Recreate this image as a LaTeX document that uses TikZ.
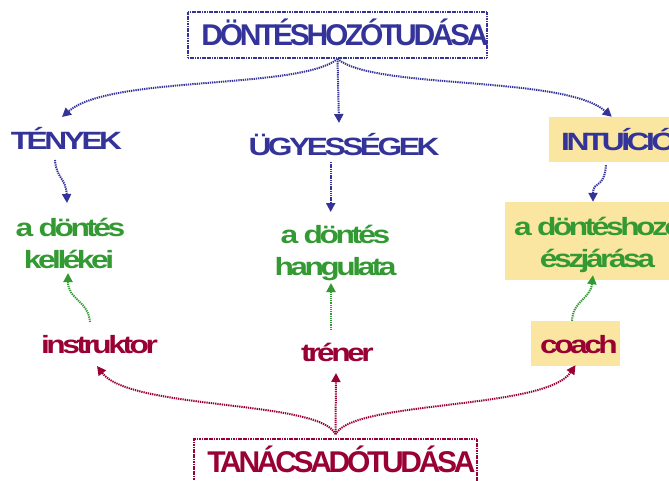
\documentclass[tikz,border=0pt]{standalone}
\usepackage{graphicx}
\usepackage{fontspec}
\setmainfont{Liberation Sans}[BoldFont={Liberation Sans Bold}]
\newfontfamily\cf{Liberation Sans Bold}[LetterSpace=-11]
\usetikzlibrary{arrows.meta}
\definecolor{dblue}{HTML}{333399}
\definecolor{dgreen}{HTML}{339933}
\definecolor{dred}{HTML}{990033}
\definecolor{lyellow}{HTML}{FAE6A0}
\newcommand{\hs}[1]{\scalebox{1.27}[1]{#1}}
\newcommand{\ts}[1]{\scalebox{1.0}[1]{#1}}
\tikzset{
  txt/.style={inner sep=0pt, anchor=base, font=\cf\fontsize{25}{30}\selectfont},
  ttl/.style={inner sep=0pt, anchor=base, font=\cf\fontsize{30}{34}\selectfont},
  bluetxt/.style={txt, text=dblue},
  greentxt/.style={txt, text=dgreen},
  redtxt/.style={txt, text=dred},
  ybox/.style={fill=lyellow, inner sep=0pt},
  frame/.style={line width=1.6pt, dash pattern=on 1.2pt off 0.5pt, inner sep=0pt},
  dotline/.style={line width=2pt, dash pattern=on 1.3pt off 0.9pt, -{Triangle[width=9pt,length=9pt]}},
  barrow/.style={dotline, draw=dblue},
  garrow/.style={dotline, draw=dgreen},
  rarrow/.style={dotline, draw=dred},
}
\begin{document}
\begin{tikzpicture}[x=1pt,y=-1pt]
\useasboundingbox (0,0) rectangle (669,480);
% title boxes
\node[frame, draw=dblue, minimum width=299pt, minimum height=46pt] (top) at (337.5,35) {};
\node[ttl, text=dblue] (toptxt) at (345,45) {\ts{DÖNTÉSHOZÓTUDÁSA}};
\node[frame, draw=dred, minimum width=283pt, minimum height=50pt] (bot) at (335.5,464) {};
\node[ttl, text=dred] (bottxt) at (341.5,472) {\ts{TANÁCSADÓTUDÁSA}};
% second row
\node[bluetxt] (tenyek) at (66.5,149) {\hs{TÉNYEK}};
\node[bluetxt] (ugyes) at (344,155) {\hs{ÜGYESSÉGEK}};
\node[ybox, minimum width=160pt, minimum height=45pt] (intubox) at (629,139.5) {};
\node[bluetxt, anchor=base west] (intu) at (561,150) {\hs{INTUÍCIÓ}};
% third row
\node[greentxt] (g1a) at (70.5,236) {\hs{a döntés}};
\node[greentxt] (g1b) at (69,268) {\hs{kellékei}};
\node[greentxt] (g2a) at (335.5,243) {\hs{a döntés}};
\node[greentxt] (g2b) at (335.5,275) {\hs{hangulata}};
\node[ybox, minimum width=190pt, minimum height=78pt] (g3box) at (600,241) {};
\node[greentxt] (g3a) at (599,235) {\hs{a döntéshozó}};
\node[greentxt] (g3b) at (597.5,267) {\hs{észjárása}};
% fourth row
\node[redtxt] (instr) at (99.5,353) {\hs{instruktor}};
\node[redtxt] (trener) at (337.5,361) {\hs{tréner}};
\node[ybox, minimum width=89pt, minimum height=45pt] (coachbox) at (575.5,343.5) {};
\node[redtxt] (coach) at (579,353) {\hs{coach}};
% blue arrows
\draw[barrow] (top.south) .. controls (300,90) and (110,75) .. ([xshift=-4.5pt,yshift=32pt]tenyek.base);
\draw[barrow] (top.south) -- ([xshift=-5pt,yshift=32pt]ugyes.base);
\draw[barrow] (top.south) .. controls (374,90) and (564,75) .. ([xshift=63pt]intubox.north west);
\draw[barrow] ([xshift=-11.5pt,yshift=-11pt]tenyek.base) .. controls (56,178) and (66,178) .. ([xshift=-3.5pt,yshift=33pt]g1a.base);
\draw[barrow] ([xshift=-13.3pt,yshift=-7pt]ugyes.base) -- ([xshift=-4.8pt,yshift=31pt]g2a.base);
\draw[barrow] ([xshift=-23pt,yshift=-3pt]intubox.south) .. controls (604,190) and (593,180) .. ([xshift=-7pt]g3box.north);
% green arrows
\draw[garrow] ([xshift=-9.5pt,yshift=31pt]instr.base) .. controls (88,300) and (68,300) .. ([xshift=-1pt,yshift=-5pt]g1b.base);
\draw[garrow] ([xshift=-6.5pt,yshift=31pt]trener.base) -- ([xshift=-4.5pt,yshift=-8pt]g2b.base);
\draw[garrow] ([xshift=-3.5pt]coachbox.north) .. controls (573,300) and (590,300) .. ([xshift=-7pt,yshift=5pt]g3box.south);
% red arrows
\draw[rarrow] ([yshift=4pt]bot.north) .. controls (320,400) and (130,410) .. ([xshift=-2.5pt,yshift=-13pt]instr.base);
\draw[rarrow] ([yshift=4pt]bot.north) -- ([xshift=-1.5pt,yshift=-12pt]trener.base);
\draw[rarrow] ([yshift=4pt]bot.north) .. controls (354,400) and (545,410) .. ([yshift=1pt]coachbox.south);
\end{tikzpicture}
\end{document}
